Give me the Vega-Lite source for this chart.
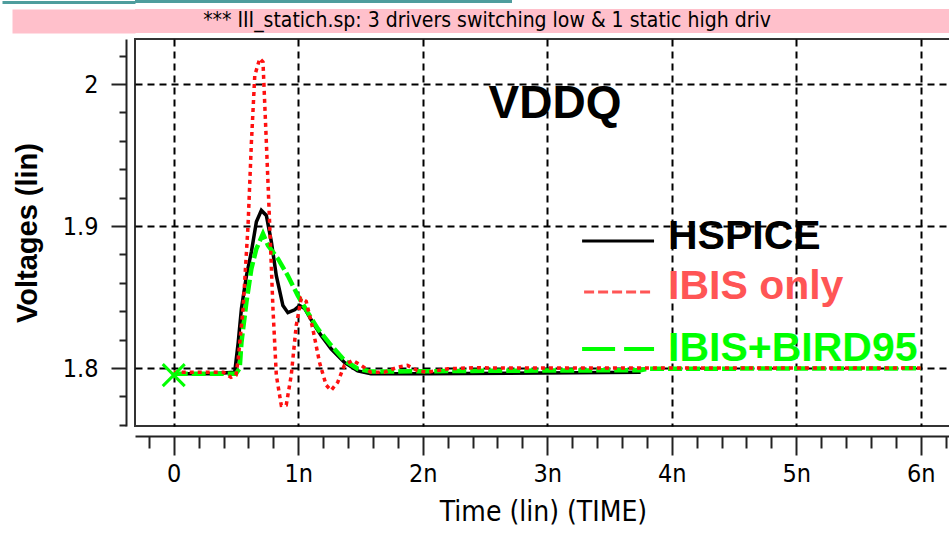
{
  "$schema": "https://vega.github.io/schema/vega-lite/v6.json",
  "background": "white",
  "padding": {"left": 0, "top": 0, "right": 0, "bottom": 0},
  "config": {"font": "DejaVu Sans Condensed"},
  "datasets": {
    "hspice": [
      {"t": 0, "v": 1.796}, {"t": 0.3, "v": 1.796}, {"t": 0.49, "v": 1.797}, {"t": 0.518, "v": 1.818},
      {"t": 0.544, "v": 1.842}, {"t": 0.584, "v": 1.865}, {"t": 0.624, "v": 1.882}, {"t": 0.664, "v": 1.903},
      {"t": 0.704, "v": 1.911}, {"t": 0.744, "v": 1.9075}, {"t": 0.784, "v": 1.889}, {"t": 0.824, "v": 1.865},
      {"t": 0.877, "v": 1.844}, {"t": 0.917, "v": 1.839}, {"t": 0.971, "v": 1.841}, {"t": 1.011, "v": 1.844},
      {"t": 1.051, "v": 1.842}, {"t": 1.117, "v": 1.832}, {"t": 1.184, "v": 1.823}, {"t": 1.264, "v": 1.8136},
      {"t": 1.371, "v": 1.804}, {"t": 1.477, "v": 1.798}, {"t": 1.584, "v": 1.796}, {"t": 2.0, "v": 1.796},
      {"t": 3.75, "v": 1.797}
    ],
    "ibis": [
      {"t": 0, "v": 1.797}, {"t": 0.4, "v": 1.797}, {"t": 0.46, "v": 1.7935}, {"t": 0.5, "v": 1.795},
      {"t": 0.518, "v": 1.8066}, {"t": 0.557, "v": 1.842}, {"t": 0.597, "v": 1.9005}, {"t": 0.624, "v": 1.959},
      {"t": 0.651, "v": 2.006}, {"t": 0.691, "v": 2.018}, {"t": 0.717, "v": 2.0155}, {"t": 0.744, "v": 1.959},
      {"t": 0.771, "v": 1.9005}, {"t": 0.797, "v": 1.842}, {"t": 0.824, "v": 1.795}, {"t": 0.864, "v": 1.7737},
      {"t": 0.904, "v": 1.774}, {"t": 0.944, "v": 1.795}, {"t": 0.984, "v": 1.83}, {"t": 1.024, "v": 1.849},
      {"t": 1.064, "v": 1.847}, {"t": 1.117, "v": 1.8277}, {"t": 1.171, "v": 1.804}, {"t": 1.224, "v": 1.788},
      {"t": 1.264, "v": 1.7843}, {"t": 1.317, "v": 1.79}, {"t": 1.371, "v": 1.802}, {"t": 1.437, "v": 1.8054},
      {"t": 1.504, "v": 1.802}, {"t": 1.584, "v": 1.797}, {"t": 1.69, "v": 1.797}, {"t": 1.8, "v": 1.8007},
      {"t": 1.877, "v": 1.8019}, {"t": 1.957, "v": 1.7983}, {"t": 2.037, "v": 1.797}, {"t": 2.2, "v": 1.7995},
      {"t": 2.4, "v": 1.8002}, {"t": 2.7, "v": 1.8}, {"t": 6, "v": 1.8}
    ],
    "bird": [
      {"t": 0, "v": 1.796}, {"t": 0.5, "v": 1.796}, {"t": 0.53, "v": 1.8}, {"t": 0.544, "v": 1.818},
      {"t": 0.584, "v": 1.8465}, {"t": 0.624, "v": 1.87}, {"t": 0.664, "v": 1.884}, {"t": 0.717, "v": 1.8946},
      {"t": 0.757, "v": 1.8864}, {"t": 0.837, "v": 1.877}, {"t": 0.917, "v": 1.865}, {"t": 0.997, "v": 1.851},
      {"t": 1.077, "v": 1.839}, {"t": 1.157, "v": 1.8277}, {"t": 1.264, "v": 1.816}, {"t": 1.371, "v": 1.8054},
      {"t": 1.477, "v": 1.7995}, {"t": 1.584, "v": 1.7975}, {"t": 2.4, "v": 1.798}, {"t": 3.75, "v": 1.7985},
      {"t": 3.8, "v": 1.7995}, {"t": 6, "v": 1.7998}
    ],
    "marker": [{"t": 0, "v": 1.795}],
    "legend": [
      {"series": "HSPICE", "t": 3.28, "t2": 3.858, "v": 1.8894},
      {"series": "IBIS only", "t": 3.296, "t2": 3.858, "v": 1.8535},
      {"series": "IBIS+BIRD95", "t": 3.28, "t2": 3.858, "v": 1.8134}
    ],
    "labels": [
      {"series": "HSPICE", "t": 3.97, "v": 1.892},
      {"series": "IBIS only", "t": 3.97, "v": 1.857},
      {"series": "IBIS+BIRD95", "t": 3.97, "v": 1.8136}
    ],
    "title": [{"series": "VDDQ", "t": 3.063, "v": 1.986}]
  },
  "vconcat": [
    {
      "width": 377,
      "height": 3,
      "view": {"fill": "#4F9D9D", "stroke": null},
      "data": {"values": [{"row": 0}]},
      "mark": {"type": "point", "size": 0, "opacity": 0},
      "encoding": {
        "y": {"field": "row", "type": "quantitative", "scale": {"domain": [-1, 1]},
          "axis": {"values": [0], "tickSize": 133, "tickWidth": 3, "tickColor": "#4F9D9D", "labels": false, "domain": false, "grid": false, "title": null, "offset": 0, "minExtent": 0}}
      }
    },
    {
      "width": 816,
      "height": 24,
      "view": {"fill": "#FFC0CB", "stroke": null},
      "data": {"values": [{"row": 0, "label": "*** III_statich.sp: 3 drivers switching low & 1 static high driv"}]},
      "mark": {"type": "text", "font": "DejaVu Sans Condensed", "fontSize": 21, "color": "black", "align": "center", "baseline": "middle", "dx": -56},
      "encoding": {
        "text": {"field": "label"},
        "y": {"field": "row", "type": "quantitative", "scale": {"domain": [-1, 1]},
          "axis": {"values": [0], "tickSize": 123, "tickWidth": 24, "tickColor": "#FFC0CB", "labels": false, "domain": false, "grid": false, "title": null, "offset": 0, "minExtent": 0}}
      }
    },
    {
      "width": 816,
      "height": 387,
      "view": {"stroke": "#333", "strokeWidth": 2},
      "encoding": {
        "x": {
          "field": "t", "type": "quantitative",
          "scale": {"domain": [-0.311, 6.243], "nice": false, "zero": false},
          "axis": {
            "title": "Time (lin) (TIME)",
            "titleFont": "DejaVu Sans Condensed", "titleFontSize": 28, "titleFontWeight": "normal", "titleColor": "black", "titlePadding": 12,
            "values": [-0.2,0,0.2,0.4,0.6,0.8,1,1.2,1.4,1.6,1.8,2,2.2,2.4,2.6,2.8,3,3.2,3.4,3.6,3.8,4,4.2,4.4,4.6,4.8,5,5.2,5.4,5.6,5.8,6,6.2],
            "labelExpr": "abs(datum.value - round(datum.value)) < 0.001 ? (round(datum.value) == 0 ? '0' : round(datum.value) + 'n') : ''",
            "labelFont": "DejaVu Sans Condensed", "labelFontSize": 25, "labelColor": "black", "labelPadding": 6,
            "labelFlush": false, "labelOverlap": false,
            "tickSize": {"condition": {"test": "abs(datum.value - round(datum.value)) < 0.001", "value": 19}, "value": 12},
            "tickColor": "#222", "tickWidth": 2,
            "domainColor": "#222", "domainWidth": 2,
            "offset": 10,
            "grid": true, "gridColor": "black", "gridDash": [7, 5], "gridWidth": 2,
            "gridOpacity": {"condition": {"test": "abs(datum.value - round(datum.value)) < 0.001", "value": 1}, "value": 0}
          }
        },
        "y": {
          "field": "v", "type": "quantitative",
          "scale": {"domain": [1.7592, 2.0317], "nice": false, "zero": false},
          "axis": {
            "title": "Voltages (lin)",
            "titleFont": "Liberation Sans", "titleFontSize": 29, "titleFontWeight": "bold", "titleColor": "black", "titlePadding": 20,
            "values": [1.76,1.78,1.8,1.82,1.84,1.86,1.88,1.9,1.92,1.94,1.96,1.98,2,2.02],
            "labelExpr": "abs(datum.value*10 - round(datum.value*10)) < 0.001 ? (round(datum.value*10) == 20 ? '2' : format(datum.value, '.1f')) : ''",
            "labelFont": "DejaVu Sans Condensed", "labelFontSize": 25, "labelColor": "black", "labelPadding": 13,
            "labelFlush": false, "labelOverlap": false,
            "tickSize": {"condition": {"test": "abs(datum.value*10 - round(datum.value*10)) < 0.001", "value": 15}, "value": 7},
            "tickColor": "#222", "tickWidth": 2,
            "domainColor": "#222", "domainWidth": 2,
            "offset": 9,
            "grid": true, "gridColor": "black", "gridDash": [7, 5], "gridWidth": 2,
            "gridOpacity": {"condition": {"test": "abs(datum.value*10 - round(datum.value*10)) < 0.001", "value": 1}, "value": 0}
          }
        }
      },
      "layer": [
        {"data": {"name": "hspice"}, "mark": {"type": "line", "color": "black", "strokeWidth": 3.5}},
        {"data": {"name": "bird"}, "mark": {"type": "line", "color": "#00FF00", "strokeWidth": 4.5, "strokeDash": [14, 4]}},
        {"data": {"name": "ibis"}, "mark": {"type": "line", "color": "#FF1010", "strokeWidth": 3.5, "strokeDash": [4, 4]}},
        {"data": {"name": "marker"}, "mark": {"type": "point", "shape": "M-1,-1L1,1M-1,1L1,-1", "size": 484, "filled": false, "color": "#00FF00", "strokeWidth": 3, "opacity": 1}},
        {"data": {"name": "legend"}, "transform": [{"filter": "datum.series == 'HSPICE'"}], "mark": {"type": "rule", "color": "black", "strokeWidth": 3}, "encoding": {"x2": {"field": "t2"}}},
        {"data": {"name": "legend"}, "transform": [{"filter": "datum.series == 'IBIS only'"}], "mark": {"type": "rule", "color": "#FF5555", "strokeWidth": 3, "strokeDash": [10, 4]}, "encoding": {"x2": {"field": "t2"}}},
        {"data": {"name": "legend"}, "transform": [{"filter": "datum.series == 'IBIS+BIRD95'"}], "mark": {"type": "rule", "color": "#00FF00", "strokeWidth": 4, "strokeDash": [33, 9]}, "encoding": {"x2": {"field": "t2"}}},
        {"data": {"name": "labels"}, "mark": {"type": "text", "font": "Liberation Sans", "fontWeight": "bold", "fontSize": 41, "align": "left", "baseline": "middle"},
         "encoding": {"text": {"field": "series"}, "color": {"field": "series", "type": "nominal", "scale": {"domain": ["HSPICE", "IBIS only", "IBIS+BIRD95", "VDDQ"], "range": ["black", "#FF5555", "#00FF00", "black"]}, "legend": null}}},
        {"data": {"name": "title"}, "mark": {"type": "text", "font": "Liberation Sans", "fontWeight": "bold", "fontSize": 46, "align": "center", "baseline": "middle", "color": "black"},
         "encoding": {"text": {"field": "series"}}}
      ]
    }
  ],
  "spacing": 5
}
